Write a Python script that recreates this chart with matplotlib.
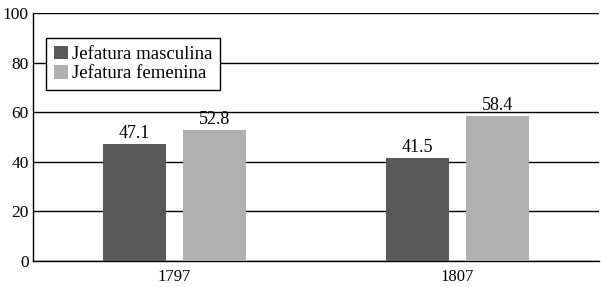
import matplotlib
matplotlib.use("Agg")
import matplotlib.pyplot as plt
import numpy as np

years = ["1797", "1807"]
masculina = [47.1, 41.5]
femenina = [52.8, 58.4]
series_labels = ["Jefatura masculina", "Jefatura femenina"]
yticks = [0, 20, 40, 60, 80, 100]

plt.rcParams['font.family'] = ['Liberation Serif', 'DejaVu Serif']

fig = plt.figure(figsize=(6.01, 2.87), dpi=100)
ax = fig.add_axes([33/601, 1 - 261/287, 566/601, 248/287])

x = np.arange(len(years))
w = 0.223
off = 0.1413
b1 = ax.bar(x - off, masculina, w, color="#595959", label=series_labels[0], zorder=3)
b2 = ax.bar(x + off, femenina, w, color="#b0b0b0", label=series_labels[1], zorder=3)
for bars, vals in ((b1, masculina), (b2, femenina)):
    for r, v in zip(bars, vals):
        ax.text(r.get_x() + r.get_width()/2, v + 1.0, f"{v:.1f}", ha="center", va="bottom", fontsize=13, zorder=4)

ax.set_xlim(-0.5, 1.5)
ax.set_ylim(0, 100)
ax.set_yticks(yticks)
ax.set_xticks(x)
ax.set_xticklabels(years)
ax.tick_params(axis="both", length=0)
ax.tick_params(axis="y", pad=3, labelsize=12.5)
ax.tick_params(axis="x", pad=6, labelsize=12)
ax.grid(axis="y", color="black", linewidth=1.0, zorder=0)
for s in ("top", "right"):
    ax.spines[s].set_visible(False)
ax.spines["left"].set_linewidth(1.0)
ax.spines["bottom"].set_linewidth(1.0)

leg = ax.legend(loc="upper left", bbox_to_anchor=(13/566, 1 - 25/248), fontsize=13.5,
                frameon=True, fancybox=False, framealpha=1, edgecolor="black",
                handlelength=0.75, handleheight=0.75, handletextpad=0.25, borderpad=0.4,
                labelspacing=0.1, borderaxespad=0)
leg.get_frame().set_linewidth(1.0)
leg.set_zorder(5)

fig.savefig("out.png", dpi=100)
